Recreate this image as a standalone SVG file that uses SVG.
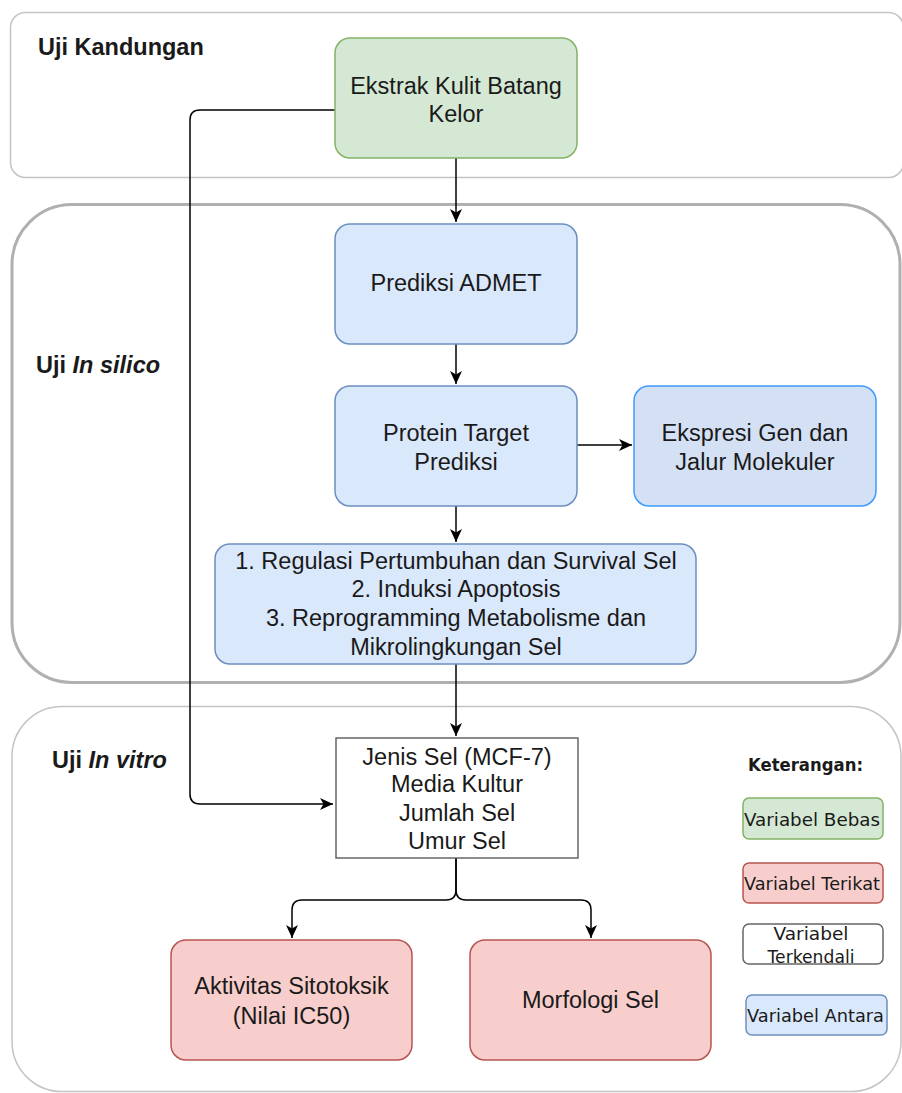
<svg xmlns="http://www.w3.org/2000/svg" width="902" height="1093" viewBox="0 0 902 1093">
<style>
  .t { font-family: "Liberation Sans", Arial, sans-serif; font-size: 23.5px; fill: #1a1a1a; text-anchor: middle; }
  .lbl { font-family: "Liberation Sans", Arial, sans-serif; font-size: 23.5px; font-weight: bold; fill: #1a1a1a; }
  .lg { font-family: "DejaVu Sans", sans-serif; font-size: 17.5px; fill: #1a1a1a; text-anchor: middle; }
  .green { fill: #d5e8d4; stroke: #82b366; stroke-width: 1.5; }
  .blue { fill: #dae8fc; stroke: #6c8ebf; stroke-width: 1.5; }
  .red { fill: #f8cecc; stroke: #b85450; stroke-width: 1.5; }
  .white { fill: #ffffff; stroke: #666666; stroke-width: 1.5; }
  .conn { fill: none; stroke: #000; stroke-width: 1.5; }
</style>
<defs>
  <marker id="arr" markerUnits="userSpaceOnUse" markerWidth="14" markerHeight="12" refX="13" refY="6" orient="auto">
    <path d="M0,0 L13,6 L0,12 L3.5,6 Z" fill="#000"/>
  </marker>
</defs>
<rect width="902" height="1093" fill="#ffffff"/>

<g id="container-kandungan">
  <rect x="10.5" y="12.5" width="893" height="165" rx="15" fill="none" stroke="#c4c4c4" stroke-width="1.5"/>
  <text class="lbl" x="38" y="55">Uji Kandungan</text>
</g>
<g id="container-insilico">
  <rect x="12" y="204.5" width="888" height="478" rx="60" fill="none" stroke="#b0b0b0" stroke-width="3"/>
  <text class="lbl" x="36" y="373">Uji <tspan font-style="italic">In silico</tspan></text>
</g>
<g id="container-invitro">
  <rect x="12" y="706.5" width="889" height="385" rx="50" fill="none" stroke="#c4c4c4" stroke-width="1.5"/>
  <text class="lbl" x="52" y="768">Uji <tspan font-style="italic">In vitro</tspan></text>
</g>

<g id="connectors">
  <path class="conn" d="M456,158 L456,222" marker-end="url(#arr)"/>
  <path class="conn" d="M456,344 L456,384" marker-end="url(#arr)"/>
  <path class="conn" d="M577,445 L632,445" marker-end="url(#arr)"/>
  <path class="conn" d="M456,506 L456,542" marker-end="url(#arr)"/>
  <path class="conn" d="M456,664 L456,736" marker-end="url(#arr)"/>
  <path class="conn" d="M335,110 L200,110 Q190,110 190,120 L190,794 Q190,804 200,804 L333,804" marker-end="url(#arr)"/>
  <path class="conn" d="M456,858 L456,890 Q456,900 446,900 L302,900 Q292,900 292,910 L292,938" marker-end="url(#arr)"/>
  <path class="conn" d="M456,858 L456,890 Q456,900 466,900 L581,900 Q591,900 591,910 L591,938" marker-end="url(#arr)"/>
</g>

<g id="node-ekstrak">
  <rect class="green" x="335" y="38" width="242" height="120" rx="15"/>
  <text class="t" x="456" y="94">Ekstrak Kulit Batang</text>
  <text class="t" x="456" y="122">Kelor</text>
</g>
<g id="node-admet">
  <rect class="blue" x="335" y="224" width="242" height="120" rx="15"/>
  <text class="t" x="456" y="291">Prediksi ADMET</text>
</g>
<g id="node-protein">
  <rect class="blue" x="335" y="386" width="242" height="120" rx="15"/>
  <text class="t" x="456" y="441">Protein Target</text>
  <text class="t" x="456" y="470">Prediksi</text>
</g>
<g id="node-ekspresi">
  <rect x="634" y="386" width="242" height="120" rx="15" fill="#d4e1f5" stroke="#3d9bff" stroke-width="1.5"/>
  <text class="t" x="755" y="441">Ekspresi Gen dan</text>
  <text class="t" x="755" y="470">Jalur Molekuler</text>
</g>
<g id="node-list">
  <rect class="blue" x="215" y="544" width="481" height="120" rx="15"/>
  <text class="t" x="456" y="569">1. Regulasi Pertumbuhan dan Survival Sel</text>
  <text class="t" x="456" y="597">2. Induksi Apoptosis</text>
  <text class="t" x="456" y="626">3. Reprogramming Metabolisme dan</text>
  <text class="t" x="456" y="655">Mikrolingkungan Sel</text>
</g>
<g id="node-jenissel">
  <rect class="white" x="336" y="738" width="242" height="120"/>
  <text class="t" x="457" y="765">Jenis Sel (MCF-7)</text>
  <text class="t" x="457" y="792">Media Kultur</text>
  <text class="t" x="457" y="821">Jumlah Sel</text>
  <text class="t" x="457" y="849">Umur Sel</text>
</g>
<g id="node-aktivitas">
  <rect class="red" x="171" y="940" width="241" height="120" rx="15"/>
  <text class="t" x="291.5" y="994">Aktivitas Sitotoksik</text>
  <text class="t" x="291.5" y="1024">(Nilai IC50)</text>
</g>
<g id="node-morfologi">
  <rect class="red" x="470" y="940" width="241" height="120" rx="15"/>
  <text class="t" x="590.5" y="1008">Morfologi Sel</text>
</g>

<g id="legend">
  <text class="lg" x="805.5" y="771" font-weight="bold" textLength="115" lengthAdjust="spacingAndGlyphs">Keterangan:</text>
  <g id="legend-bebas">
    <rect class="green" x="743" y="798" width="140" height="41" rx="6"/>
    <text class="lg" x="812" y="826" textLength="136" lengthAdjust="spacingAndGlyphs">Variabel Bebas</text>
  </g>
  <g id="legend-terikat">
    <rect class="red" x="743" y="863" width="140" height="40" rx="6"/>
    <text class="lg" x="812" y="890" textLength="136" lengthAdjust="spacingAndGlyphs">Variabel Terikat</text>
  </g>
  <g id="legend-terkendali">
    <rect class="white" x="743" y="924" width="140" height="40" rx="6"/>
    <text class="lg" x="811" y="940" textLength="75" lengthAdjust="spacingAndGlyphs">Variabel</text>
    <text class="lg" x="811" y="963" textLength="87" lengthAdjust="spacingAndGlyphs">Terkendali</text>
  </g>
  <g id="legend-antara">
    <rect class="blue" x="746" y="995" width="141" height="40" rx="6"/>
    <text class="lg" x="815.5" y="1022" textLength="137" lengthAdjust="spacingAndGlyphs">Variabel Antara</text>
  </g>
</g>
</svg>
